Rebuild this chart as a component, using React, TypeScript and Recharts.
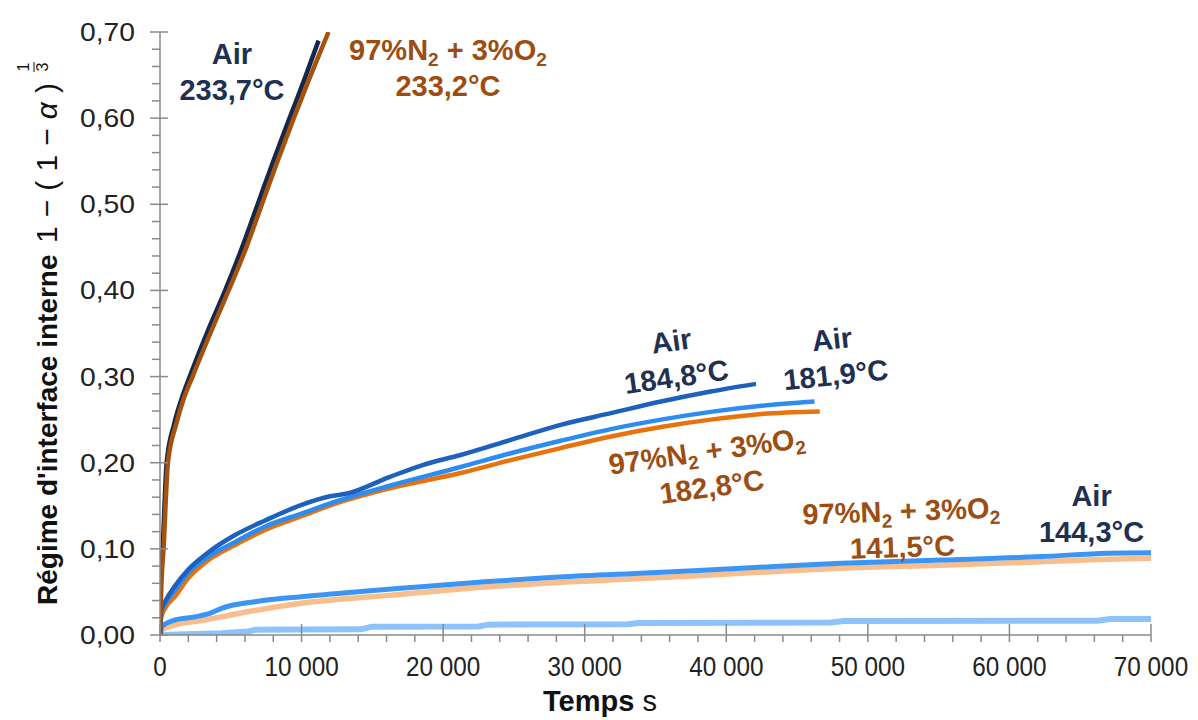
import React from "react";
import { LineChart, Line, XAxis, YAxis, ReferenceDot } from "recharts";

// Air 233,7 °C
const tAir2337 = [0, 60, 190, 470, 1000, 1500, 2100, 3300, 4600, 5800, 6900, 8000, 9150, 10200, 11200];
const vAir2337 = [0, 0.06, 0.1, 0.2, 0.245, 0.273, 0.3, 0.35, 0.4, 0.45, 0.5, 0.55, 0.6, 0.645, 0.69];
// 97%N2 + 3%O2 233,2 °C
const tN2_2332 = [0, 100, 250, 560, 1150, 1650, 2300, 3550, 4850, 6100, 7200, 8300, 9450, 10650, 11900];
const vN2_2332 = [0, 0.06, 0.1, 0.2, 0.245, 0.273, 0.3, 0.35, 0.4, 0.45, 0.5, 0.55, 0.6, 0.65, 0.7];
// Air 184,8 °C
const tAir1848 = [0, 80, 400, 1060, 2000, 3420, 5300, 7430, 10000, 12000, 13300, 16150, 18500, 21230, 24770, 28300, 31850, 35390, 38900, 42100];
const vAir1848 = [0, 0.028, 0.04, 0.057, 0.076, 0.096, 0.116, 0.133, 0.151, 0.161, 0.1645, 0.183, 0.197, 0.209, 0.2265, 0.244, 0.2575, 0.271, 0.2826, 0.2915];
// Air 181,9 °C
const tAir1819 = [0, 80, 400, 1060, 2000, 3420, 5300, 7430, 10000, 12600, 16150, 21230, 24770, 28300, 31850, 35390, 38900, 42500, 46230];
const vAir1819 = [0, 0.026, 0.037, 0.052, 0.072, 0.091, 0.108, 0.126, 0.141, 0.156, 0.173, 0.195, 0.211, 0.2255, 0.239, 0.25, 0.259, 0.266, 0.271];
// 97%N2 + 3%O2 182,8 °C
const tN2_1828 = [0, 80, 400, 1060, 2000, 3420, 5300, 7430, 10000, 12600, 16150, 21230, 24770, 28300, 31850, 35390, 38900, 42500, 46600];
const vN2_1828 = [0, 0.02, 0.032, 0.0445, 0.066, 0.087, 0.1045, 0.122, 0.138, 0.1537, 0.17, 0.188, 0.203, 0.217, 0.2305, 0.2415, 0.25, 0.2565, 0.2594];
// Air 144,3 °C
const tAir1443 = [0, 150, 1060, 2470, 3500, 4350, 6700, 10000, 13770, 18470, 23180, 27880, 33970, 41050, 48120, 55200, 62280, 67000, 70000];
const vAir1443 = [0, 0.01, 0.0174, 0.021, 0.025, 0.031, 0.0387, 0.0445, 0.05, 0.056, 0.062, 0.067, 0.0716, 0.0775, 0.0833, 0.087, 0.091, 0.095, 0.0955];
// 97%N2 + 3%O2 141,5 °C
const tN2_1415 = [0, 150, 1060, 3180, 5540, 10000, 16150, 23180, 28000, 33970, 41050, 48120, 55200, 62280, 67000, 70000];
const vN2_1415 = [0, 0.006, 0.0116, 0.0174, 0.025, 0.0368, 0.046, 0.056, 0.061, 0.0655, 0.0716, 0.0775, 0.081, 0.085, 0.088, 0.089];
// lowest run (no label)
const tLow = [0, 4350, 6200, 6700, 14200, 14950, 22500, 23180, 33000, 33800, 47400, 48300, 66200, 67100, 70000];
const vLow = [0, 0.002, 0.004, 0.006, 0.0066, 0.0095, 0.01, 0.012, 0.0125, 0.014, 0.0145, 0.0163, 0.0166, 0.0185, 0.0185];

const xMajor = [0, 10000, 20000, 30000, 40000, 50000, 60000, 70000];
const yMajor = [0, 0.1, 0.2, 0.3, 0.4, 0.5, 0.6, 0.7];

const zip = (t: number[], v: number[]) => t.map((x, i) => ({ t: x, v: v[i] }));

const FONT = "'Liberation Sans', Arial, sans-serif";
const AXIS = "#8a8a8a";
const NAVY = "#1f3152";
const BROWN = "#9c4e12";

const xTicks = Array.from({ length: 36 }, (_, i) => i * 2000);
const yTicks = Array.from({ length: 36 }, (_, i) => i * 0.02);

const fmtX = (v: number) => (v === 0 ? "0" : `${Math.round(v / 1000)} 000`);
const fmtY = (v: number) => v.toFixed(2).replace(".", ",");

const XTick = (props: any) => {
  const { x, y, payload } = props;
  const major = xMajor.includes(payload.value);
  const label = fmtX(payload.value);
  // narrow-looking labels, as in the original
  const natural = (label.replace(/ /g, "").length * 0.556 + (label.split(" ").length - 1) * 0.278) * 27;
  return (
    <g>
      <line x1={x} x2={x} y1={major ? y - 11 : y} y2={y + 7} stroke={AXIS} strokeWidth={1.5} />
      {major && (
        <text
          x={x}
          y={y + 41}
          textAnchor="middle"
          fontFamily={FONT}
          fontSize={27}
          fill="#222"
          textLength={natural * 0.9}
          lengthAdjust="spacingAndGlyphs"
        >
          {label}
        </text>
      )}
    </g>
  );
};

const YTick = (props: any) => {
  const { x, y, payload } = props;
  const major = yMajor.some((m) => Math.abs(m - payload.value) < 1e-6);
  return (
    <g>
      <line x1={major ? x - 10 : x - 8} x2={major ? x + 8 : x} y1={y} y2={y} stroke={AXIS} strokeWidth={1.5} />
      {major && (
        <text
          x={x - 25}
          y={y + 9}
          textAnchor="end"
          fontFamily={FONT}
          fontSize={26}
          fill="#222"
          textLength={55}
          lengthAdjust="spacingAndGlyphs"
        >
          {fmtY(payload.value)}
        </text>
      )}
    </g>
  );
};

type Seg = { s: string; sub?: boolean };
const airText: Seg[] = [{ s: "Air" }];
const mixText: Seg[] = [{ s: "97%N" }, { s: "2", sub: true }, { s: " + 3%O" }, { s: "2", sub: true }];

const annotations = [
  { t: 5085, v: 0.6536, angle: 0, color: NAVY, l1: airText, l2: "233,7°C" },
  { t: 20340, v: 0.658, angle: 0, color: BROWN, l1: mixText, l2: "233,2°C" },
  { t: 36300, v: 0.3204, angle: -8, color: NAVY, l1: airText, l2: "184,8°C" },
  { t: 47600, v: 0.3227, angle: -6, color: NAVY, l1: airText, l2: "181,9°C" },
  { t: 38800, v: 0.1927, angle: -8, color: BROWN, l1: mixText, l2: "182,8°C" },
  { t: 52400, v: 0.123, angle: -2, color: BROWN, l1: mixText, l2: "141,5°C" },
  { t: 65800, v: 0.1405, angle: 0, color: NAVY, l1: airText, l2: "144,3°C" },
];

const Annotation = ({ cx, cy, a }: any) => {
  const segs = a.l1 as Seg[];
  let shift = 0;
  return (
    <g transform={`rotate(${a.angle}, ${cx}, ${cy})`}>
      <text x={cx} y={cy - 8} textAnchor="middle" fontFamily={FONT} fontWeight="bold" fontSize={29} fill={a.color}>
        {segs.map((sg, i) => {
          const dy = sg.sub ? 6 - shift : -shift;
          shift = sg.sub ? 6 : 0;
          return (
            <tspan key={i} dy={dy} fontSize={sg.sub ? 19 : 29}>
              {sg.s}
            </tspan>
          );
        })}
      </text>
      <text x={cx} y={cy + 28} textAnchor="middle" fontFamily={FONT} fontWeight="bold" fontSize={29} fill={a.color}>
        {a.l2}
      </text>
    </g>
  );
};

const YTitle = () => (
  <g transform="translate(57, 605) rotate(-90)">
    <text x={0} y={0} fontFamily={FONT} fontWeight="bold" fontSize={28} fill="#111">
      Régime d'interface interne
    </text>
    <text x={362} y={0} fontFamily={FONT} fontSize={30} fill="#111" textLength={160}>
      <tspan>1−(1−</tspan>
      <tspan fontStyle="italic">α</tspan>
      <tspan>)</tspan>
    </text>
    <text x={538} y={-28} textAnchor="middle" fontFamily={FONT} fontSize={16} fill="#111">1</text>
    <line x1={533} x2={543} y1={-23} y2={-23} stroke="#111" strokeWidth={1} />
    <text x={538} y={-9} textAnchor="middle" fontFamily={FONT} fontSize={16} fill="#111">3</text>
  </g>
);

const XTitle = () => (
  <text x={600} y={711} textAnchor="middle" fontFamily={FONT} fontSize={29} fill="#111">
    <tspan fontWeight="bold">Temps</tspan>
    <tspan> s</tspan>
  </text>
);

export default function App() {
  return (
    <div style={{ position: "absolute", left: 0, top: 0, width: 1198, height: 720, background: "#fff" }}>
      <LineChart width={1198} height={720} margin={{ top: 32, right: 47, bottom: 0, left: 0 }}>
        <XAxis
          type="number"
          dataKey="t"
          domain={[0, 70000]}
          ticks={xTicks}
          interval={0}
          tickSize={0}
          tickMargin={0}
          tick={<XTick />}
          height={85}
          axisLine={{ stroke: AXIS, strokeWidth: 1.5 }}
          allowDataOverflow
          label={{ content: <XTitle /> }}
        />
        <YAxis
          type="number"
          domain={[0, 0.7]}
          ticks={yTicks}
          interval={0}
          tickSize={0}
          tickMargin={0}
          tick={<YTick />}
          width={160}
          axisLine={{ stroke: AXIS, strokeWidth: 1.5 }}
          allowDataOverflow
          label={{ content: <YTitle /> }}
        />
        <Line data={zip(tLow, vLow)} dataKey="v" type="linear" stroke="#8dc3fa" strokeWidth={6} dot={false} isAnimationActive={false} />
        <Line data={zip(tN2_1415, vN2_1415)} dataKey="v" type="monotone" stroke="#f8be8e" strokeWidth={5.5} dot={false} isAnimationActive={false} />
        <Line data={zip(tAir1443, vAir1443)} dataKey="v" type="monotone" stroke="#3a95f5" strokeWidth={5} dot={false} isAnimationActive={false} />
        <Line data={zip(tN2_1828, vN2_1828)} dataKey="v" type="monotone" stroke="#e8720c" strokeWidth={4.5} dot={false} isAnimationActive={false} />
        <Line data={zip(tAir1819, vAir1819)} dataKey="v" type="monotone" stroke="#2c8cf1" strokeWidth={4.5} dot={false} isAnimationActive={false} />
        <Line data={zip(tAir1848, vAir1848)} dataKey="v" type="monotone" stroke="#1d60bd" strokeWidth={4.5} dot={false} isAnimationActive={false} />
        <Line data={zip(tAir2337, vAir2337)} dataKey="v" type="monotone" stroke="#16274a" strokeWidth={4.5} dot={false} isAnimationActive={false} />
        <Line data={zip(tN2_2332, vN2_2332)} dataKey="v" type="monotone" stroke="#a5520f" strokeWidth={4.5} dot={false} isAnimationActive={false} />
        {annotations.map((a, i) => (
          <ReferenceDot
            key={i}
            x={a.t}
            y={a.v}
            r={0}
            ifOverflow="visible"
            shape={(p: any) => <Annotation cx={p.cx} cy={p.cy} a={a} />}
          />
        ))}
      </LineChart>
    </div>
  );
}
